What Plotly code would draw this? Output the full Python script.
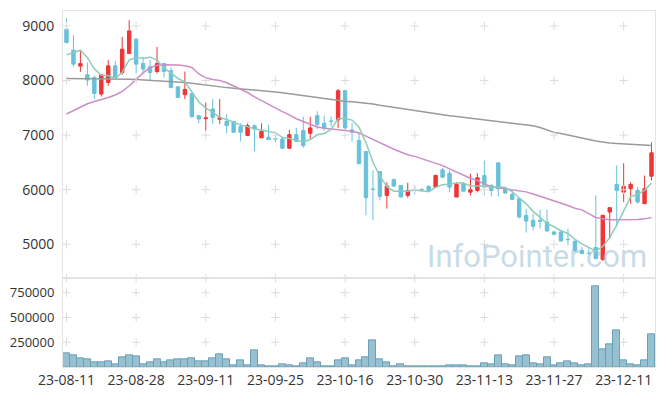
import plotly.graph_objects as go

dates = ["23-08-11","23-08-14","23-08-16","23-08-17","23-08-18",
         "23-08-21","23-08-22","23-08-23","23-08-24","23-08-25",
         "23-08-28","23-08-29","23-08-30","23-08-31","23-09-01",
         "23-09-04","23-09-05","23-09-06","23-09-07","23-09-08",
         "23-09-11","23-09-12","23-09-13","23-09-14","23-09-15",
         "23-09-18","23-09-19","23-09-20","23-09-21","23-09-22",
         "23-09-25","23-09-26","23-09-27","23-10-04","23-10-05",
         "23-10-06","23-10-10","23-10-11","23-10-12","23-10-13",
         "23-10-16","23-10-17","23-10-18","23-10-19","23-10-20",
         "23-10-23","23-10-24","23-10-25","23-10-26","23-10-27",
         "23-10-30","23-10-31","23-11-01","23-11-02","23-11-03",
         "23-11-06","23-11-07","23-11-08","23-11-09","23-11-10",
         "23-11-13","23-11-14","23-11-15","23-11-16","23-11-17",
         "23-11-20","23-11-21","23-11-22","23-11-23","23-11-24",
         "23-11-27","23-11-28","23-11-29","23-11-30","23-12-01",
         "23-12-04","23-12-05","23-12-06","23-12-07","23-12-08",
         "23-12-11","23-12-12","23-12-13","23-12-14","23-12-15"]

open_ = [8940,8556,8264,8105,8056,7752,7964,8269,8147,8494,
         8757,8311,8251,8165,8311,8178,7886,7740,7763,7356,
         7300,7478,7289,7252,7252,7155,6991,7170,6949,6960,
         6935,6930,6759,7009,7082,7033,7356,7216,7260,7278,
         7813,7095,6900,6699,6010,6333,5895,6187,6078,5895,
         6005,6000,6060,6047,6364,6302,5864,6108,5955,5986,
         6260,6078,6492,6005,5913,5835,5530,5438,5440,5407,
         5225,5225,5090,5055,4890,4835,4940,4720,5590,6096,
         5955,6017,5986,5743,6247]
high = [9141,8830,8556,8330,8087,8105,8373,8361,8799,9104,
        8780,8434,8373,8616,8311,8240,7886,8165,7763,7370,
        7600,7661,7661,7387,7260,7216,7216,7200,7216,7192,
        6991,6975,7095,7131,7338,7338,7435,7356,7338,7844,
        7830,7216,7051,6699,6352,6333,6138,6200,6078,6127,
        6078,6030,6080,6278,6400,6352,6138,6138,6291,6302,
        6534,6100,6492,6050,5986,5850,5652,5560,5634,5634,
        5250,5260,5287,5070,4950,4920,5895,5530,5670,6443,
        6485,6138,6050,6260,6869]
low = [8680,8251,8160,7904,7661,7703,7904,8020,8105,8494,
       8129,8129,7995,8129,8056,7860,7680,7661,7320,7216,
       7082,7205,7205,7033,7040,6887,6991,6704,6949,6918,
       6869,6740,6759,6887,6766,6931,7113,7082,7155,7131,
       7100,6880,6474,5530,5438,5804,5652,6050,5864,5853,
       5913,5970,5973,6047,6220,5955,5864,5973,5895,5955,
       5895,5877,5877,5930,5810,5470,5214,5250,5287,5230,
       5160,5050,4982,4870,4820,4800,4720,4695,5104,5316,
       5773,5743,5743,5743,6170]
close = [8695,8300,8311,8008,7763,8105,8269,8045,8574,8909,
         8300,8209,8147,8311,8165,7873,7690,7837,7338,7296,
         7315,7325,7325,7174,7051,7051,7174,7115,7070,6918,
         6930,6759,7009,6887,6808,7131,7192,7131,7250,7813,
         7131,7051,6474,5853,6005,5877,6065,6065,5864,5986,
         6000,5995,5973,6260,6229,6047,6096,5973,5998,6218,
         6047,5986,6017,5937,5822,5499,5426,5329,5420,5243,
         5183,5061,5085,4878,4830,4830,4739,5530,5670,5987,
         6060,6096,5773,6017,6675]

ma_short = [8470,8520,8556,8420,8215,8097,8091,8038,8151,8380,
            8419,8407,8428,8375,8226,8141,8037,7975,7781,7607,
            7495,7422,7320,7287,7238,7185,7155,7113,7092,7066,
            7041,6958,6937,6901,6879,6919,7005,7030,7102,7303,
            7303,7275,7144,6864,6503,6252,6055,5973,5975,5971,
            5996,5982,5964,6043,6091,6101,6121,6121,6069,6066,
            6066,6044,6053,6041,5962,5852,5740,5603,5499,5383,
            5320,5247,5198,5090,5007,4937,4872,4961,5120,5351,
            5597,5869,5917,5987,6124]
ma_mid = [7387,7450,7520,7575,7615,7648,7690,7735,7800,7900,
          8020,8140,8238,8280,8290,8290,8285,8270,8238,8120,
          8050,8020,8000,7960,7900,7840,7780,7700,7630,7565,
          7500,7430,7370,7300,7250,7200,7150,7125,7113,7100,
          7085,7070,7040,6980,6910,6850,6790,6740,6690,6640,
          6610,6570,6530,6490,6440,6380,6320,6260,6210,6170,
          6100,6060,6030,6017,6000,5990,5960,5920,5880,5840,
          5800,5760,5710,5660,5630,5560,5490,5465,5451,5451,
          5450,5450,5452,5465,5488]
ma_long = [8037,8037,8036,8036,8035,8035,8034,8034,8030,8024,
           8018,8012,8005,7998,7990,7982,7973,7964,7948,7930,
           7912,7895,7882,7870,7860,7850,7838,7825,7812,7800,
           7788,7775,7760,7740,7722,7705,7690,7672,7652,7636,
           7622,7610,7600,7585,7568,7545,7525,7505,7485,7465,
           7448,7430,7412,7395,7375,7356,7340,7325,7308,7290,
           7275,7262,7250,7235,7220,7205,7185,7170,7140,7090,
           7050,7030,7005,6980,6950,6920,6890,6870,6855,6845,
           6838,6830,6822,6815,6808]

volume = [135600,115400,92000,82000,44500,44500,54600,31000,102000,115000,
          105000,24000,44500,82000,44500,65000,82000,76000,92000,54600,
          54600,92000,125000,82000,21000,65000,21000,173000,21000,11000,
          5000,31000,21000,11000,41000,92000,51000,11000,11000,72000,
          92000,21000,72000,102000,274000,82000,51000,5000,31000,5000,
          11000,5000,5000,5000,5000,21000,21000,21000,11000,11000,
          41000,31000,122000,31000,21000,112000,122000,41000,31000,102000,
          21000,41000,62000,41000,21000,31000,814000,183000,224000,365000,
          72000,31000,21000,72000,325000]

x_ticks = dates[0::10]
price_ticks = [5000, 6000, 7000, 8000, 9000]
vol_ticks = [250000, 500000, 750000]
price_range = [4388, 9274]
vol_range = [0, 895000]

UP = "#ef3535"
DOWN = "#69c1d9"
GRID = "#dcdcdc"
AXIS = "#e4e4e4"
FONT = dict(family="Open Sans", size=14, color="#333333")

fig = go.Figure()

fig.add_trace(go.Scatter(x=dates, y=ma_long, mode="lines", xaxis="x", yaxis="y",
                         line=dict(color="#9a9a9a", width=1.5), showlegend=False))
fig.add_trace(go.Scatter(x=dates, y=ma_mid, mode="lines", xaxis="x", yaxis="y",
                         line=dict(color="#cc8dc8", width=1.5), showlegend=False))

fig.add_trace(go.Candlestick(x=dates, open=open_, high=high, low=low, close=close,
                             xaxis="x", yaxis="y",
                             increasing=dict(line=dict(color=UP, width=1), fillcolor=UP),
                             decreasing=dict(line=dict(color=DOWN, width=1), fillcolor=DOWN),
                             whiskerwidth=0, showlegend=False))

fig.add_trace(go.Scatter(x=dates, y=ma_short, mode="lines", xaxis="x", yaxis="y",
                         line=dict(color="#8dcdbb", width=1.5), showlegend=False))

fig.add_trace(go.Bar(x=dates, y=volume, xaxis="x2", yaxis="y2",
                     marker=dict(color="#97c0d0", line=dict(color="#6d9fb4", width=1)),
                     showlegend=False))

# grid crosses at tick intersections
cx = [d for d in x_ticks for _ in price_ticks]
cy = [p for _ in x_ticks for p in price_ticks]
fig.add_trace(go.Scatter(x=cx, y=cy, mode="markers", xaxis="x", yaxis="y",
                         marker=dict(symbol="cross-thin", size=6,
                                     line=dict(width=1, color=GRID)),
                         hoverinfo="skip", showlegend=False))
vt = vol_ticks + [vol_range[1]]
vx = [d for d in x_ticks for _ in vt]
vy = [p for _ in x_ticks for p in vt]
fig.add_trace(go.Scatter(x=vx, y=vy, mode="markers", xaxis="x2", yaxis="y2",
                         cliponaxis=False,
                         marker=dict(symbol="cross-thin", size=6,
                                     line=dict(width=1, color=GRID)),
                         hoverinfo="skip", showlegend=False))

fig.update_layout(
    width=657, height=388,
    margin=dict(l=53, r=10, t=2, b=29),
    paper_bgcolor="white", plot_bgcolor="white",
    font=FONT,
    bargap=0,
    xaxis=dict(type="category", categoryorder="array", categoryarray=dates,
               domain=[0, 1], anchor="y", range=[-0.5, 84.5],
               showticklabels=False, showgrid=False, zeroline=False,
               showline=True, mirror=True, linecolor=AXIS, linewidth=1,
               rangeslider=dict(visible=False), tickvals=x_ticks, ticks=""),
    yaxis=dict(domain=[0.251, 1], anchor="x", range=price_range,
               tickvals=price_ticks, ticktext=[str(v) for v in price_ticks],
               showgrid=False, zeroline=False, showline=True, mirror=True,
               linecolor=AXIS, linewidth=1, ticks="", ticklabelstandoff=5),
    xaxis2=dict(type="category", categoryorder="array", categoryarray=dates,
                domain=[0, 1], anchor="y2", matches="x", tickangle=0,
                tickvals=x_ticks, ticktext=x_ticks, showgrid=False, zeroline=False,
                showline=True, mirror=True, linecolor=AXIS, linewidth=1, ticks=""),
    yaxis2=dict(domain=[0, 0.249], anchor="x2", range=vol_range,
                tickvals=vol_ticks, ticktext=[str(v) for v in vol_ticks],
                tickfont=dict(size=13),
                showgrid=False, zeroline=False, showline=True, mirror=True,
                linecolor=AXIS, linewidth=1, ticks="", ticklabelstandoff=5),
    annotations=[dict(text="InfoPointer.com", xref="paper", yref="paper",
                      x=0.99, y=0.311, xanchor="right", yanchor="middle",
                      showarrow=False,
                      font=dict(family="Roboto", size=31, color="rgba(165,195,212,0.62)"))],
)

fig.write_html("out.html")
